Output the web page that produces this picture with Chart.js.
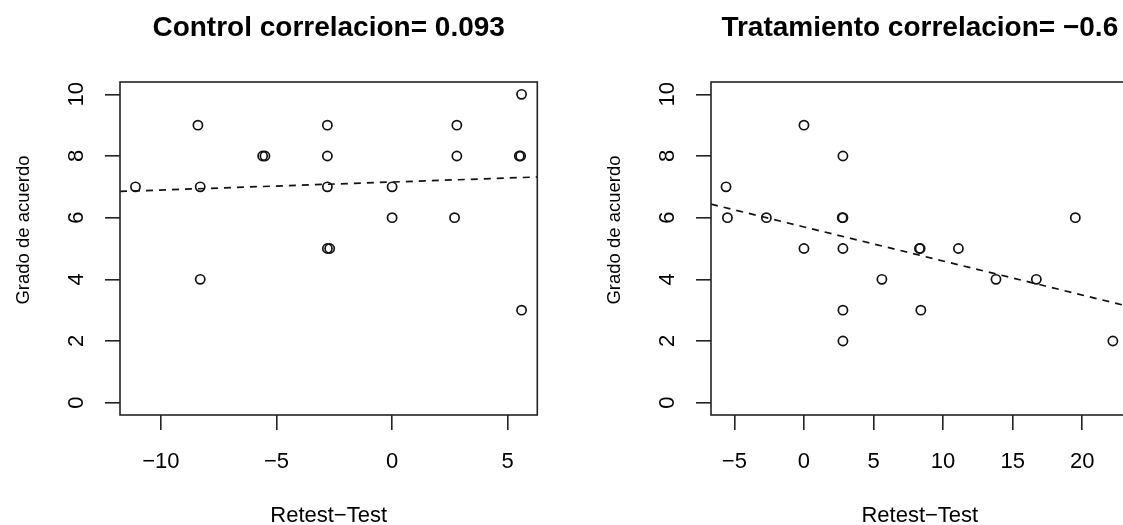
<!DOCTYPE html>
<html>
<head>
<meta charset="utf-8">
<script src="https://cdn.jsdelivr.net/npm/chart.js@4.4.0/dist/chart.umd.min.js"></script>
<style>
	html, body { margin: 0; padding: 0; background: #fff; overflow: hidden; width: 1123px; height: 525px; }
	canvas { position: absolute; top: 0; }
</style>
</head>
<body>
<canvas id="graficaControl" width="561" height="525" style="left:0px"></canvas>
<canvas id="graficaTratamiento" width="600" height="525" style="left:561px"></canvas>
<script>
// grupo control
let controlX = [-11.1, -8.4, -8.3, -8.3, -5.6, -5.5, -2.8, -2.8, -2.8, -2.8, -2.7, 0, 0, 2.8, 2.8, 2.7, 5.6, 5.5, 5.56, 5.6];
let controlY = [7, 9, 7, 4, 8, 8, 9, 8, 7, 5, 5, 7, 6, 9, 8, 6, 10, 8, 8, 3];
let controlAjuste = [7.156, 0.026];
let controlXLim = [-11.77, 6.28];
let controlXTicks = [-10, -5, 0, 5];

// grupo tratamiento
let tratamientoX = [-5.6, -5.5, -2.7, 0, 0, 2.8, 2.8, 2.75, 2.8, 2.8, 2.8, 5.6, 8.3, 8.35, 8.4, 11.1, 13.8, 16.7, 19.5, 22.2];
let tratamientoY = [7, 6, 6, 9, 5, 8, 6, 6, 5, 3, 2, 4, 5, 5, 3, 5, 4, 4, 6, 2];
let tratamientoAjuste = [5.70, -0.1105];
let tratamientoXLim = [-6.68, 23.33];
let tratamientoXTicks = [-5, 0, 5, 10, 15, 20];

// comun
let yLim = [-0.4, 10.4];
let yTicks = [0, 2, 4, 6, 8, 10];

const FUENTE = '"Liberation Sans", Arial, Helvetica, sans-serif';

function etiqueta(v){
	return v < 0 ? '\u2212' + Math.abs(v) : String(v);
}

// textos al estilo R y la caja
let textoR = {
	id: 'textoR',
	afterDraw(chart, args, opts){
		let ctx  = chart.ctx;
		let area = chart.chartArea;
		let sx   = chart.scales.x;
		let sy   = chart.scales.y;
		let centro = (area.left + area.right) / 2;
		ctx.save();
		ctx.strokeStyle = '#222';
		ctx.lineWidth   = 1.6;
		ctx.strokeRect(area.left, area.top, area.right - area.left, area.bottom - area.top);

		ctx.fillStyle    = '#000';
		ctx.textAlign    = 'center';
		ctx.textBaseline = 'alphabetic';
		ctx.font = 'bold 28px ' + FUENTE;
		ctx.fillText(opts.titulo, centro, area.top - 46);

		ctx.font = '22px ' + FUENTE;
		opts.xTicks.forEach(v => ctx.fillText(etiqueta(v), sx.getPixelForValue(v), area.bottom + 53));
		ctx.fillText('Retest\u2212Test', centro, area.bottom + 107);

		yTicks.forEach(v => {
			ctx.save();
			ctx.translate(area.left - 37, sy.getPixelForValue(v));
			ctx.rotate(-Math.PI / 2);
			ctx.fillText(etiqueta(v), 0, 0);
			ctx.restore();
		});

		ctx.font = '18.5px ' + FUENTE;
		ctx.translate(area.left - 91, (area.top + area.bottom) / 2 - 18.5);
		ctx.rotate(-Math.PI / 2);
		ctx.fillText('Grado de acuerdo', 0, 0);
		ctx.restore();
	}
};

function crearGrafica(id, titulo, xs, ys, ajuste, xLim, xTicks, anchoY, paddingDer){
	let puntos = xs.map((x, i) => ({ x: x, y: ys[i] }));
	let recta  = xLim.map(x => ({ x: x, y: ajuste[0] + ajuste[1] * x }));
	let ctx = document.getElementById(id).getContext('2d');
	return new Chart(ctx, {
		type: 'scatter',
		data: {
			datasets: [{
				data: puntos,
				pointRadius: 4.6,
				pointBorderWidth: 1.7,
				pointBorderColor: '#111',
				pointBackgroundColor: 'rgba(0,0,0,0)'
			}, {
				type: 'line',
				data: recta,
				showLine: true,
				borderColor: '#111',
				borderWidth: 1.7,
				borderDash: [7, 6],
				pointRadius: 0,
				fill: false
			}]
		},
		options: {
			responsive: false,
			animation: false,
			events: [],
			layout: { padding: { top: 82, left: 0, right: paddingDer, bottom: 0 } },
			plugins: {
				legend: { display: false },
				title: { display: false },
				tooltip: { enabled: false },
				textoR: { titulo: titulo, xTicks: xTicks }
			},
			scales: {
				x: {
					type: 'linear',
					min: xLim[0],
					max: xLim[1],
					afterBuildTicks: s => { s.ticks = xTicks.map(v => ({ value: v })); },
					afterFit: s => { s.height = 110; },
					ticks: { display: false },
					border: { display: false },
					grid: { drawOnChartArea: false, drawTicks: true, tickLength: 15, color: '#222', lineWidth: 1.6 }
				},
				y: {
					type: 'linear',
					min: yLim[0],
					max: yLim[1],
					afterBuildTicks: s => { s.ticks = yTicks.map(v => ({ value: v })); },
					afterFit: s => { s.width = anchoY; },
					ticks: { display: false },
					border: { display: false },
					grid: { drawOnChartArea: false, drawTicks: true, tickLength: 15, color: '#222', lineWidth: 1.6 }
				}
			}
		},
		plugins: [textoR]
	});
}

crearGrafica('graficaControl', 'Control correlacion= 0.093', controlX, controlY, controlAjuste,
	controlXLim, controlXTicks, 120, 23.7);
crearGrafica('graficaTratamiento', 'Tratamiento correlacion= \u22120.6', tratamientoX, tratamientoY, tratamientoAjuste,
	tratamientoXLim, tratamientoXTicks, 150, 32.4);
</script>
</body>
</html>
